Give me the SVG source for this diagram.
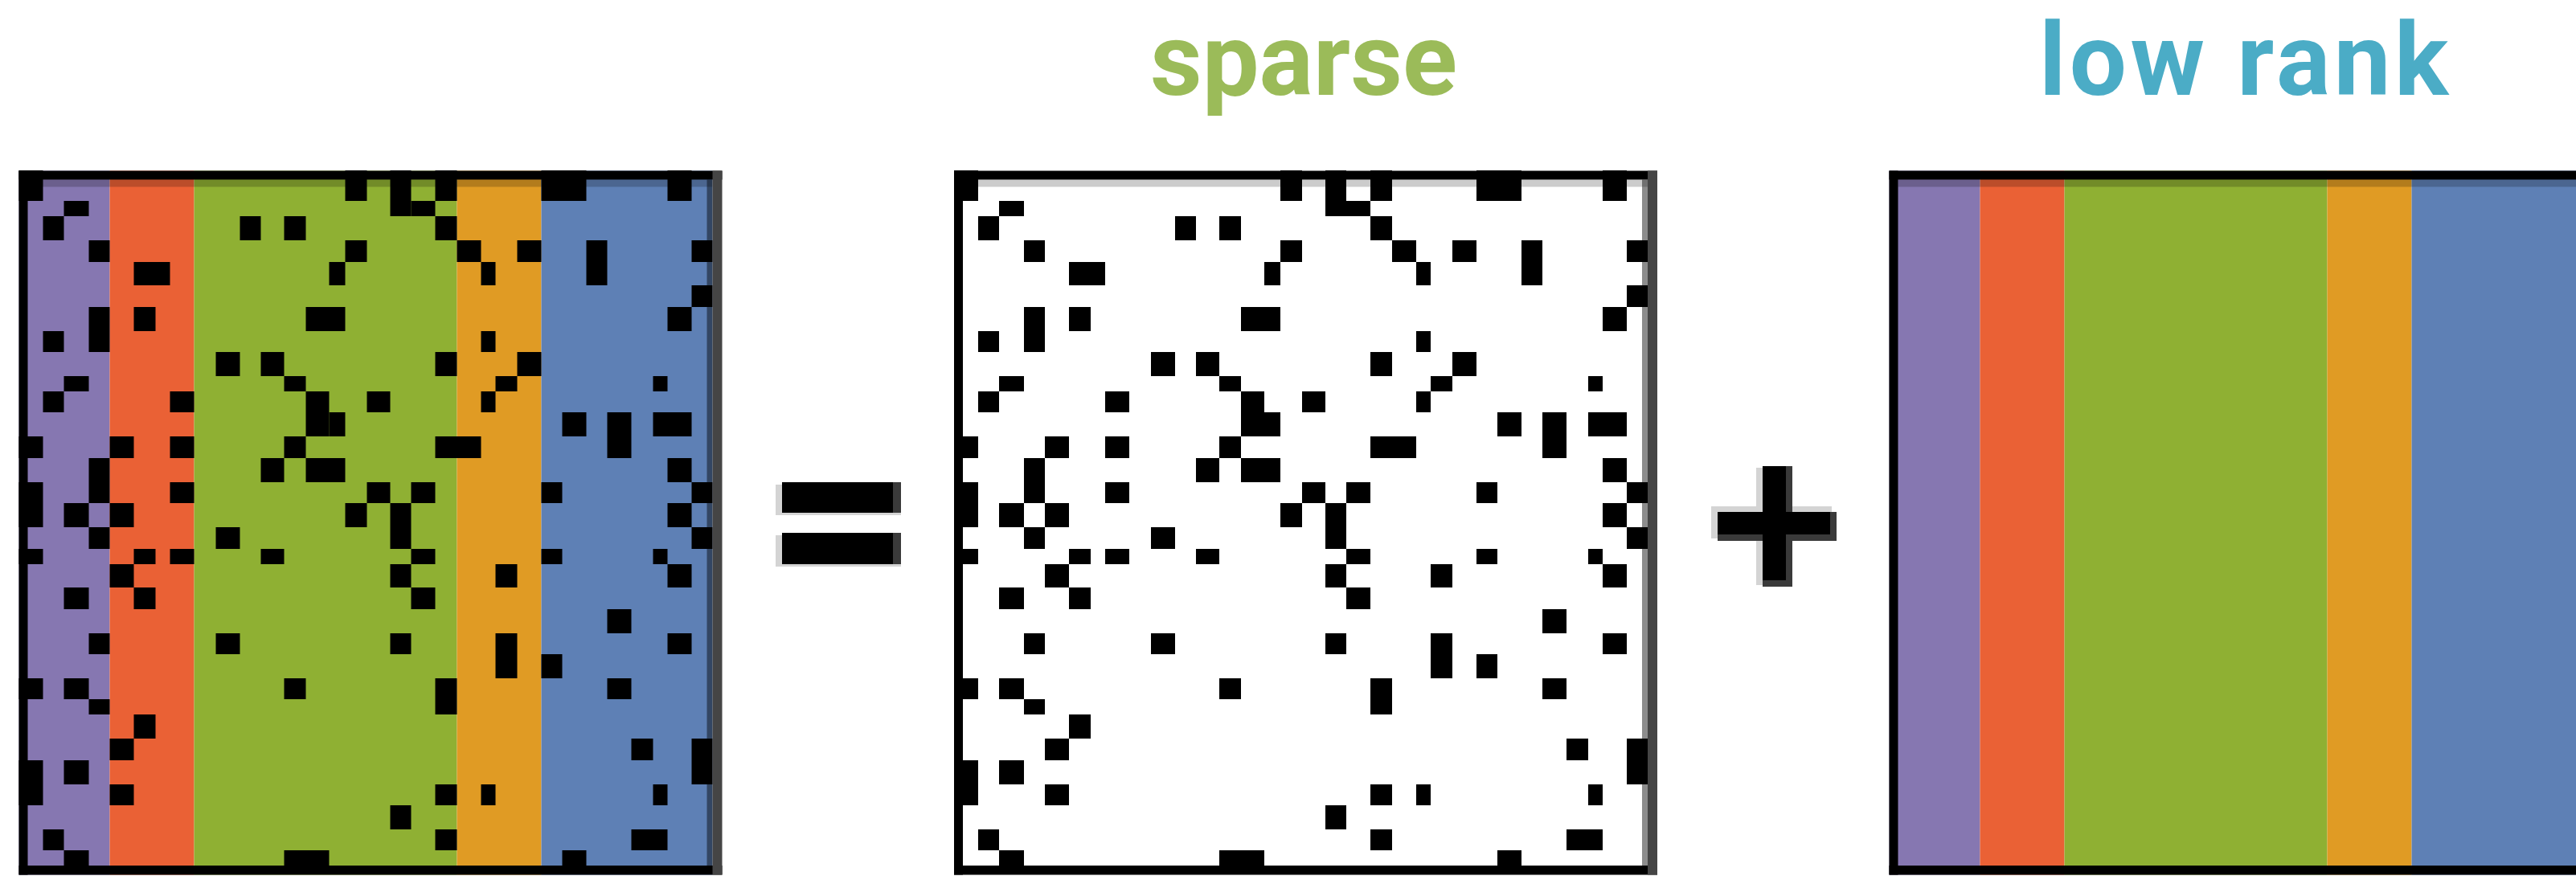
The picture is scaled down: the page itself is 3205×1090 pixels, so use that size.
<svg xmlns="http://www.w3.org/2000/svg" xmlns:xlink="http://www.w3.org/1999/xlink" width="3205" height="1090" viewBox="0 0 3205 1090">
<style>
.cells rect{fill:#000}
.title{font-family:Roboto,"Liberation Sans",sans-serif;font-weight:700;font-size:126px}
.op{fill:#000}
.halo{fill:#d4d4d4}
.dark{fill:#3a3a3a}
</style>
<defs>
<g id="bands">
<rect x="1187" y="212.5" width="113" height="876" fill="#8677B1"/>
<rect x="1300" y="212.5" width="105" height="876" fill="#EA6135"/>
<rect x="1405" y="212.5" width="327" height="876" fill="#8FB033"/>
<rect x="1732" y="212.5" width="105" height="876" fill="#E09B24"/>
<rect x="1837" y="212.5" width="213" height="876" fill="#5E80B5"/>
</g>
<g id="frame">
<rect x="1198" y="223.5" width="852" height="9" fill="#000" fill-opacity="0.2"/>
<rect x="2043" y="223.5" width="7" height="853.5" fill="#000" fill-opacity="0.45"/>
<rect x="1187" y="212.5" width="875" height="11" fill="#000"/>
<rect x="1187" y="1077" width="875" height="11.5" fill="#000"/>
<rect x="1187" y="212.5" width="11" height="876" fill="#000"/>
<rect x="2050" y="212.5" width="12" height="876" fill="#454545"/>
</g>
<g id="cells" class="cells">
<rect x="1187" y="212" width="30" height="38"/>
<rect x="1593" y="212" width="27" height="38"/>
<rect x="1243" y="250" width="31" height="19"/>
<rect x="1217" y="269" width="26" height="30"/>
<rect x="1462" y="269" width="26" height="30"/>
<rect x="1517" y="269" width="27" height="30"/>
<rect x="1274" y="299" width="26" height="27"/>
<rect x="1593" y="299" width="27" height="27"/>
<rect x="1330" y="326" width="45" height="29"/>
<rect x="1573" y="326" width="20" height="29"/>
<rect x="1274" y="382" width="26" height="56"/>
<rect x="1330" y="382" width="27" height="30"/>
<rect x="1544" y="382" width="49" height="30"/>
<rect x="1217" y="412" width="26" height="26"/>
<rect x="1432" y="438" width="30" height="30"/>
<rect x="1488" y="438" width="29" height="30"/>
<rect x="1517" y="468" width="27" height="19"/>
<rect x="1243" y="468" width="31" height="19"/>
<rect x="1217" y="487" width="26" height="26"/>
<rect x="1375" y="487" width="30" height="26"/>
<rect x="1544" y="487" width="29" height="56"/>
<rect x="1573" y="513" width="20" height="30"/>
<rect x="1187" y="543" width="30" height="27"/>
<rect x="1300" y="543" width="30" height="27"/>
<rect x="1375" y="543" width="30" height="27"/>
<rect x="1517" y="543" width="27" height="27"/>
<rect x="1274" y="570" width="26" height="56"/>
<rect x="1488" y="570" width="29" height="30"/>
<rect x="1544" y="570" width="49" height="30"/>
<rect x="1187" y="600" width="30" height="56"/>
<rect x="1375" y="600" width="30" height="26"/>
<rect x="1243" y="626" width="31" height="30"/>
<rect x="1300" y="626" width="30" height="30"/>
<rect x="1593" y="626" width="27" height="30"/>
<rect x="1274" y="656" width="26" height="27"/>
<rect x="1432" y="656" width="30" height="27"/>
<rect x="1187" y="683" width="30" height="19"/>
<rect x="1330" y="683" width="27" height="19"/>
<rect x="1375" y="683" width="30" height="19"/>
<rect x="1488" y="683" width="29" height="19"/>
<rect x="1300" y="702" width="30" height="29"/>
<rect x="1243" y="731" width="31" height="27"/>
<rect x="1330" y="731" width="27" height="27"/>
<rect x="1274" y="788" width="26" height="26"/>
<rect x="1432" y="788" width="30" height="26"/>
<rect x="1187" y="844" width="30" height="26"/>
<rect x="1243" y="844" width="31" height="26"/>
<rect x="1517" y="844" width="27" height="26"/>
<rect x="1274" y="870" width="26" height="19"/>
<rect x="1330" y="889" width="27" height="30"/>
<rect x="1300" y="919" width="30" height="27"/>
<rect x="1187" y="946" width="30" height="56"/>
<rect x="1243" y="946" width="31" height="30"/>
<rect x="1300" y="976" width="30" height="26"/>
<rect x="1217" y="1032" width="26" height="26"/>
<rect x="1243" y="1058" width="31" height="30"/>
<rect x="1517" y="1058" width="56" height="30"/>
<rect x="1649" y="212" width="26" height="57"/>
<rect x="1675" y="250" width="30" height="19"/>
<rect x="1705" y="212" width="27" height="38"/>
<rect x="1837" y="212" width="56" height="38"/>
<rect x="1994" y="212" width="30" height="38"/>
<rect x="1705" y="269" width="27" height="30"/>
<rect x="1732" y="299" width="30" height="27"/>
<rect x="1807" y="299" width="30" height="27"/>
<rect x="1893" y="299" width="26" height="56"/>
<rect x="2024" y="299" width="26" height="27"/>
<rect x="1762" y="326" width="18" height="29"/>
<rect x="2024" y="355" width="26" height="27"/>
<rect x="1994" y="382" width="30" height="30"/>
<rect x="1762" y="412" width="18" height="26"/>
<rect x="1705" y="438" width="27" height="30"/>
<rect x="1807" y="438" width="30" height="30"/>
<rect x="1780" y="468" width="27" height="19"/>
<rect x="1976" y="468" width="18" height="19"/>
<rect x="1620" y="487" width="29" height="26"/>
<rect x="1762" y="487" width="18" height="26"/>
<rect x="1863" y="513" width="30" height="30"/>
<rect x="1919" y="513" width="30" height="57"/>
<rect x="1976" y="513" width="48" height="30"/>
<rect x="1705" y="543" width="57" height="27"/>
<rect x="1994" y="570" width="30" height="30"/>
<rect x="1620" y="600" width="29" height="26"/>
<rect x="1675" y="600" width="30" height="26"/>
<rect x="1837" y="600" width="26" height="26"/>
<rect x="2024" y="600" width="26" height="26"/>
<rect x="1649" y="626" width="26" height="57"/>
<rect x="1994" y="626" width="30" height="30"/>
<rect x="2024" y="656" width="26" height="27"/>
<rect x="1675" y="683" width="30" height="19"/>
<rect x="1837" y="683" width="26" height="19"/>
<rect x="1976" y="683" width="18" height="19"/>
<rect x="1649" y="702" width="26" height="29"/>
<rect x="1780" y="702" width="27" height="29"/>
<rect x="1994" y="702" width="30" height="29"/>
<rect x="1675" y="731" width="30" height="27"/>
<rect x="1919" y="758" width="30" height="30"/>
<rect x="1649" y="788" width="26" height="26"/>
<rect x="1780" y="788" width="27" height="56"/>
<rect x="1994" y="788" width="30" height="26"/>
<rect x="1837" y="814" width="26" height="30"/>
<rect x="1705" y="844" width="27" height="45"/>
<rect x="1919" y="844" width="30" height="26"/>
<rect x="1949" y="919" width="27" height="27"/>
<rect x="2024" y="919" width="26" height="57"/>
<rect x="1705" y="976" width="27" height="26"/>
<rect x="1762" y="976" width="18" height="26"/>
<rect x="1976" y="976" width="18" height="26"/>
<rect x="1649" y="1002" width="26" height="30"/>
<rect x="1705" y="1032" width="27" height="26"/>
<rect x="1949" y="1032" width="45" height="26"/>
<rect x="1863" y="1058" width="30" height="30"/>
</g>
</defs>

<g id="matrix-observed" transform="translate(-1163.5,0)">
<use xlink:href="#bands" href="#bands"/>
<use xlink:href="#cells" href="#cells"/>
<use xlink:href="#frame" href="#frame"/>
</g>

<g id="equals-sign">
<rect class="halo" x="965" y="603" width="156" height="38"/>
<rect class="op" x="973" y="600" width="140" height="38"/>
<rect class="dark" x="1111" y="600" width="10" height="38"/>
<rect class="halo" x="965" y="666" width="156" height="39"/>
<rect class="op" x="973" y="663" width="140" height="39"/>
<rect class="dark" x="1111" y="663" width="10" height="39"/>
</g>

<g id="matrix-sparse">
<rect x="1187" y="212.5" width="875" height="876" fill="#fff"/>
<use xlink:href="#cells" href="#cells"/>
<use xlink:href="#frame" href="#frame"/>
</g>

<g id="plus-sign">
<rect class="halo" x="2129" y="630" width="150" height="40"/>
<rect class="halo" x="2185" y="582" width="40" height="146"/>
<rect class="dark" x="2137" y="637" width="148" height="36"/>
<rect class="dark" x="2193" y="580" width="37" height="150"/>
<rect class="op" x="2137" y="637" width="140" height="28"/>
<rect class="op" x="2193" y="580" width="29" height="142"/>
</g>

<g id="matrix-lowrank" transform="translate(1163.5,0)">
<use xlink:href="#bands" href="#bands"/>
<use xlink:href="#frame" href="#frame"/>
</g>

<g id="labels">
<text id="label-sparse" class="title" x="1431" y="118" fill="#9BBB59">sparse</text>
<text id="label-lowrank" class="title" x="2537" y="118" letter-spacing="4.5" fill="#4BACC6">low rank</text>
</g>
</svg>
